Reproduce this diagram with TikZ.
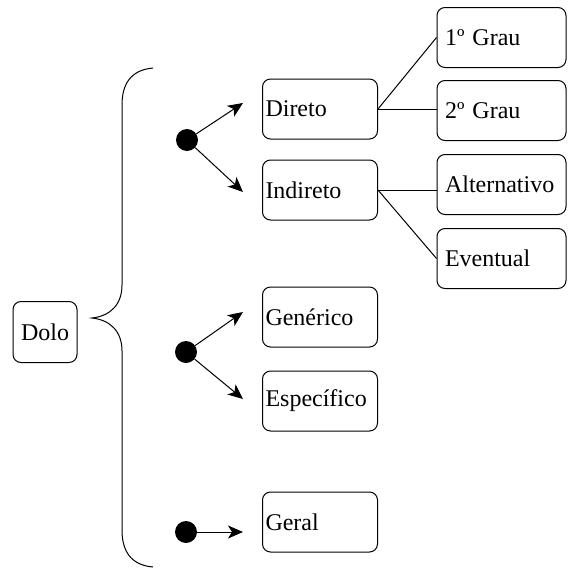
\documentclass[tikz,border=0pt]{standalone}
\usepackage{fontspec}
\setmainfont{Liberation Serif}
\newfontfamily\dolofont{Liberation Serif}
\usepackage{tikz}
\usetikzlibrary{arrows.meta,positioning}
\tikzset{
  dbox/.style={draw, rounded corners=8pt, line width=1pt, align=left, font=\dolofont\fontsize{24}{27}\selectfont,
               minimum height=60pt, text width=109pt, inner xsep=3pt, inner ysep=0pt},
  gbox/.style={draw, rounded corners=8pt, line width=1pt, align=left, font=\dolofont\fontsize{24}{27}\selectfont,
               minimum height=60pt, text width=113pt, inner xsep=8pt, inner ysep=0pt},
  dotnode/.style={circle, fill=black, minimum size=22pt, inner sep=0pt},
  darr/.style={-{Stealth[length=15pt, width=13pt, inset=4pt]}, line width=1pt},
  dline/.style={line width=1pt}
}
\begin{document}
\begin{tikzpicture}[x=1pt, y=-1pt]
\useasboundingbox (0,0) rectangle (568,568);
% root and brace
\node[draw, rounded corners=8pt, line width=1pt, font=\dolofont\fontsize{24}{27}\selectfont,
      minimum width=64pt, minimum height=61pt, inner sep=2pt] (dolo) at (45,332) {Dolo};
\draw[dline] (153,68) .. controls (130,70) and (122,85) .. (122,105) -- (122,285)
  .. controls (122,305) and (110,316) .. (92,318)
  .. controls (110,320) and (122,331) .. (122,351) -- (122,530)
  .. controls (122,550) and (130,565) .. (153,567);
% middle column
\node[dbox] (dir) at (320,109) {Direto};
\node[dbox, below=20pt of dir] (ind) {Indireto};
\node[dbox] (gen) at (320,317) {Genérico};
\node[dbox, below=23pt of gen] (esp) {Específico};
\node[dbox] (ger) at (320,522) {Geral};
% right column
\node[gbox] (g1) at (501.5,37.5) {1º Grau};
\node[gbox, below=12pt of g1] (g2) {2º Grau};
\node[gbox, below=13pt of g2] (alt) {Alternativo};
\node[gbox, below=13pt of alt] (evt) {Eventual};
% dots and arrows
\node[dotnode] (p1) at (187,140) {};
\node[dotnode] (p2) at (186,352) {};
\node[dotnode] (p3) at (186,532) {};
\coordinate (t1) at (243,103);
\coordinate (t2) at (243,192);
\coordinate (t3) at (243,312);
\coordinate (t4) at (243,399);
\coordinate (t5) at (243,532);
\draw[darr] (p1) -- (t1);
\draw[darr] (p1) -- (t2);
\draw[darr] (p2) -- (t3);
\draw[darr] (p2) -- (t4);
\draw[darr] (p3) -- (t5);
\draw[dline] (dir.east) -- (g1.west);
\draw[dline] (dir.east) -- (dir.east -| g2.west);
\draw[dline] (ind.east) -- (ind.east -| alt.west);
\draw[dline] (ind.east) -- (evt.west);
\end{tikzpicture}
\end{document}
